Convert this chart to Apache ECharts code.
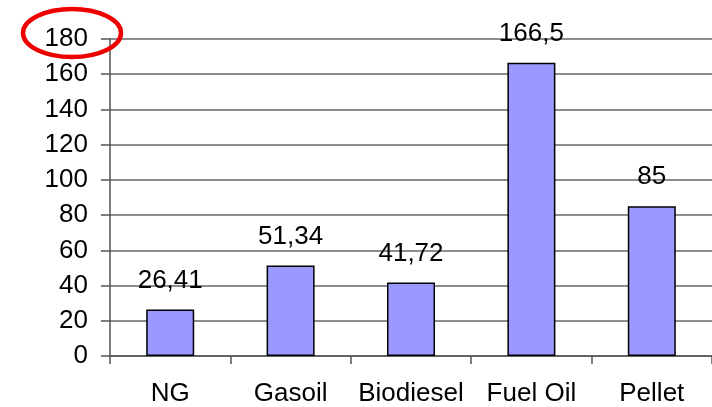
<!DOCTYPE html>
<html>
<head>
<meta charset="utf-8">
<script src="https://cdn.jsdelivr.net/npm/echarts@6/dist/echarts.min.js"></script>
<style>
  html, body { margin: 0; padding: 0; background: #fff; }
  #chart { width: 712px; height: 407px; }
</style>
</head>
<body>
<div id="chart"></div>
<script>
var categories = ["NG", "Gasoil", "Biodiesel", "Fuel Oil", "Pellet"];
var values = [26.41, 51.34, 41.72, 166.5, 85];
var valueLabels = ["26,41", "51,34", "41,72", "166,5", "85"];

var chart = echarts.init(document.getElementById("chart"));
var font = "Liberation Sans, Arial, sans-serif";

var option = {
  backgroundColor: "#ffffff",
  animation: false,
  grid: { left: 110, width: 606, top: 39, bottom: 50, containLabel: false },
  xAxis: {
    type: "category",
    data: categories,
    axisLine: { lineStyle: { color: "#555", width: 1.5 } },
    axisTick: { show: true, interval: 0, length: 8, lineStyle: { color: "#555", width: 1.5 } },
    axisLabel: { interval: 0, hideOverlap: false, color: "#000", fontSize: 26, fontFamily: font, margin: 25 }
  },
  yAxis: {
    type: "value",
    min: 0,
    max: 180,
    interval: 20,
    axisLine: { show: true, lineStyle: { color: "#555", width: 1.5 } },
    axisTick: { show: true, length: 9, lineStyle: { color: "#555", width: 1.5 } },
    axisLabel: { color: "#000", fontSize: 26, fontFamily: font, margin: 22 },
    splitLine: { lineStyle: { color: "#666", width: 1.5 } }
  },
  series: [
    {
      type: "bar",
      data: values,
      barWidth: 48,
      itemStyle: { color: "#9999ff", borderColor: "#000", borderWidth: 1.5 },
      label: {
        show: true,
        position: "top",
        distance: 16,
        color: "#000",
        fontSize: 26,
        fontFamily: font,
        formatter: function (p) { return valueLabels[p.dataIndex]; }
      }
    }
  ],
  graphic: [
    {
      type: "ellipse",
      shape: { cx: 72, cy: 33, rx: 49, ry: 24 },
      style: { fill: "none", stroke: "#ee0000", lineWidth: 4.5 },
      z: 100
    }
  ]
};

chart.setOption(option);
</script>
</body>
</html>
